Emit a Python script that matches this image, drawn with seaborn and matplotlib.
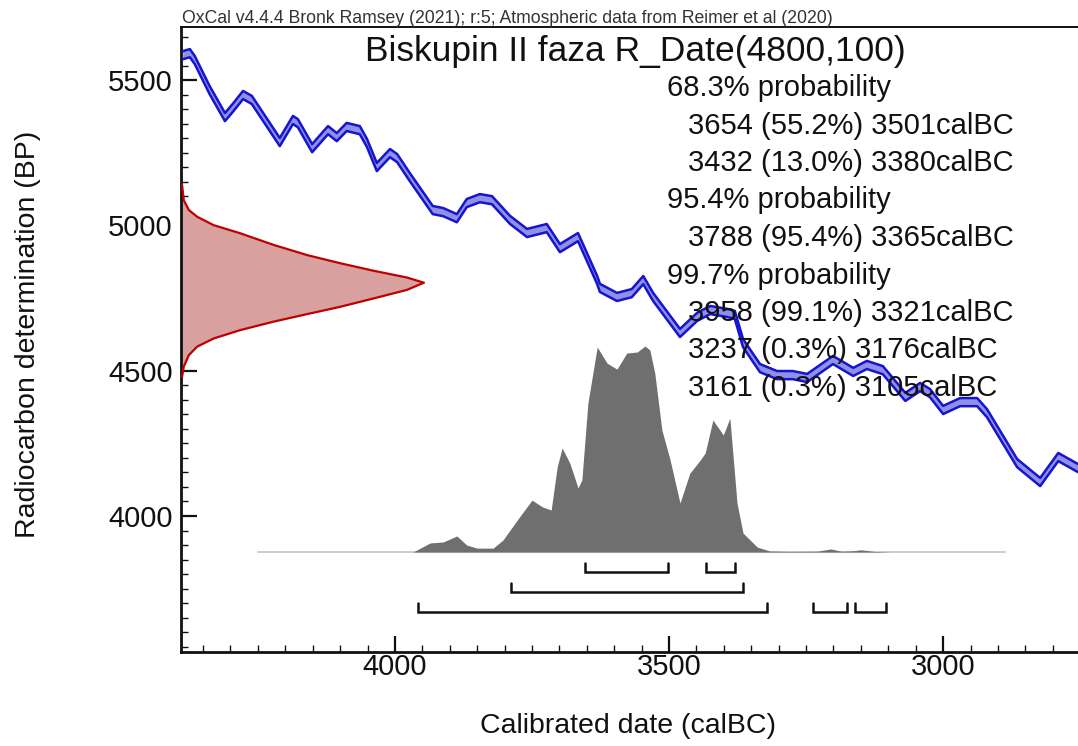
import numpy as np
import pandas as pd
import matplotlib
matplotlib.use('Agg')
import matplotlib.pyplot as plt
import seaborn as sns
from matplotlib.ticker import MultipleLocator

sns.set_theme(style='white')
plt.rcParams['font.family'] = ['Liberation Sans', 'DejaVu Sans']

# calibration curve (atmospheric), centre of the band
curve_cal = [4387, 4374, 4365, 4338, 4310, 4296, 4277, 4261, 4210, 4186, 4177,
             4151, 4122, 4106, 4088, 4064, 4051, 4033, 4009, 3996, 3973, 3931,
             3912, 3887, 3869, 3845, 3823, 3790, 3759, 3723, 3699, 3666, 3631,
             3626, 3595, 3568, 3547, 3529, 3480, 3449, 3425, 3394, 3380, 3365,
             3334, 3303, 3274, 3248, 3201, 3164, 3139, 3110, 3069, 3042, 3024,
             3000, 2969, 2938, 2920, 2865, 2823, 2790, 2754]
curve_bp = [5586, 5593, 5569, 5466, 5373, 5404, 5449, 5432, 5287, 5363, 5352,
            5266, 5328, 5304, 5339, 5328, 5284, 5201, 5249, 5232, 5167, 5053,
            5046, 5025, 5077, 5094, 5087, 5019, 4974, 4991, 4922, 4960, 4812,
            4785, 4754, 4767, 4812, 4754, 4630, 4685, 4709, 4699, 4692, 4595,
            4509, 4485, 4485, 4475, 4537, 4496, 4520, 4502, 4410, 4444, 4423,
            4365, 4392, 4392, 4354, 4182, 4117, 4203, 4165]
curve_err = 14

# radiocarbon measurement R_Date(4800,100): relative height of the red curve
rdate_bp = [5139, 5087, 5053, 5030, 5001, 4973, 4933, 4898, 4870, 4844, 4821,
            4803, 4778, 4749, 4720, 4695, 4669, 4640, 4611, 4583, 4554, 4514,
            4479]
rdate_dens = [0.004, 0.011, 0.032, 0.066, 0.134, 0.244, 0.381, 0.519, 0.655,
              0.793, 0.929, 1.0, 0.929, 0.793, 0.655, 0.519, 0.381, 0.244,
              0.134, 0.066, 0.032, 0.011, 0.004]

# calibrated probability distribution (relative to its maximum)
post_cal = [3967, 3936, 3912, 3887, 3869, 3850, 3821, 3803, 3777, 3750, 3730,
            3715, 3704, 3695, 3681, 3666, 3659, 3648, 3631, 3613, 3595, 3577,
            3558, 3544, 3535, 3526, 3513, 3498, 3480, 3462, 3443, 3434, 3420,
            3401, 3389, 3376, 3365, 3339, 3316, 3280, 3230, 3205, 3185, 3165,
            3150, 3125, 3095]
post_dens = [0.0, 0.044, 0.049, 0.078, 0.034, 0.019, 0.019, 0.058, 0.155, 0.252,
             0.218, 0.204, 0.413, 0.505, 0.432, 0.311, 0.35, 0.723, 0.995, 0.917,
             0.888, 0.966, 0.971, 1.0, 0.981, 0.869, 0.592, 0.447, 0.238, 0.383,
             0.447, 0.481, 0.641, 0.568, 0.65, 0.238, 0.092, 0.024, 0.005, 0.003,
             0.004, 0.015, 0.004, 0.006, 0.011, 0.003, 0.0]

# calibrated ranges: (from, to, percent)
ranges_68 = [(3654, 3501, 55.2), (3432, 3380, 13.0)]
ranges_95 = [(3788, 3365, 95.4)]
ranges_99 = [(3958, 3321, 99.1), (3237, 3176, 0.3), (3161, 3105, 0.3)]
prob_labels = ['68.3%', '95.4%', '99.7%']

title = 'Biskupin II faza R_Date(4800,100)'
header = 'OxCal v4.4.4 Bronk Ramsey (2021); r:5; Atmospheric data from Reimer et al (2020)'

# layout constants
x_left, x_right = 4390, 2754
y_bottom, y_top = 3532, 5683
base_bp = 3876          # baseline of the calibrated distribution
post_height = 709       # height of distribution peak in BP units
rdate_width = 443       # width of red curve peak in years

fig = plt.figure(figsize=(10.78, 7.46), dpi=100)
ax = fig.add_axes([0.168, 0.126, 0.832, 0.8378])

# calibration curve band
cdf = pd.DataFrame({'cal': curve_cal, 'bp': curve_bp})
cdf['lo'] = cdf['bp'] - curve_err
cdf['hi'] = cdf['bp'] + curve_err
ax.fill_between(cdf['cal'], cdf['lo'], cdf['hi'], color='#9090e6', lw=0, zorder=2)
sns.lineplot(data=cdf, x='cal', y='lo', color='#1515d0', lw=1.8, sort=False,
             estimator=None, ax=ax, zorder=3)
sns.lineplot(data=cdf, x='cal', y='hi', color='#1515d0', lw=1.8, sort=False,
             estimator=None, ax=ax, zorder=3)

# measured radiocarbon date on the y axis
rdf = pd.DataFrame({'bp': rdate_bp, 'dens': rdate_dens})
rdf['x'] = x_left - rdf['dens'] * rdate_width
ax.fill_betweenx(rdf['bp'], x_left, rdf['x'], color='#d9a0a0', lw=0, zorder=2)
sns.lineplot(data=rdf, x='x', y='bp', color='#c00000', lw=1.6, sort=False,
             estimator=None, ax=ax, zorder=3)

# calibrated distribution
pdf = pd.DataFrame({'cal': post_cal, 'dens': post_dens})
ax.plot([4250, 2887], [base_bp, base_bp], color='#c8c8c8', lw=1.3, zorder=1)
ax.fill_between(pdf['cal'], base_bp, base_bp + pdf['dens'] * post_height,
                color='#6f6f6f', lw=0, zorder=2)

# range brackets
tick_h = 31
for i, rows in enumerate([ranges_68, ranges_95, ranges_99]):
    yb = base_bp - 69 - i * 68.5
    for a, b, p in rows:
        ax.plot([a, a, b, b], [yb + tick_h, yb, yb, yb + tick_h],
                color='#111111', lw=1.8, solid_joinstyle='miter', zorder=3)

ax.set_xlim(x_left, x_right)
ax.set_ylim(y_bottom, y_top)

ax.xaxis.set_major_locator(MultipleLocator(500))
ax.xaxis.set_minor_locator(MultipleLocator(50))
ax.yaxis.set_major_locator(MultipleLocator(500))
ax.yaxis.set_minor_locator(MultipleLocator(50))
ax.tick_params(which='both', direction='in', color='#111111',
               bottom=True, left=True, top=False, right=False)
ax.tick_params(which='major', length=11.5, width=1.6, labelsize=21,
               labelcolor='#111111')
ax.tick_params(which='minor', length=5, width=1.0)
ax.tick_params(axis='x', pad=0.5)
ax.tick_params(axis='y', pad=6)

for side in ['left', 'bottom']:
    ax.spines[side].set_linewidth(2.0)
    ax.spines[side].set_color('#111111')
ax.spines['top'].set_linewidth(1.4)
ax.spines['top'].set_color('#111111')
ax.spines['right'].set_visible(False)

ax.set_xlabel('Calibrated date (calBC)', fontsize=20.5, color='#111111')
ax.set_ylabel('Radiocarbon determination (BP)', fontsize=20.5, color='#111111')
ax.xaxis.set_label_coords(0.498, -0.097)
ax.yaxis.set_label_coords(-0.156, 0.509)

# texts
fig.text(182 / 1078, 1 - 23 / 746, header, fontsize=12.7, color='#333333',
         ha='left', va='baseline')
fig.text(635 / 1078, 1 - 52 / 746, title, fontsize=25.5, color='#111111',
         ha='center', va='center', zorder=5)

lines = []
for lab, rows in zip(prob_labels, [ranges_68, ranges_95, ranges_99]):
    lines.append((lab + ' probability', 667))
    for a, b, p in rows:
        lines.append((f'{a} ({p:.1f}%) {b}calBC', 688))
for k, (txt, xp) in enumerate(lines):
    yp = 88 + k * 37.5
    fig.text(xp / 1078, 1 - yp / 746, txt, fontsize=21, color='#111111',
             ha='left', va='center', zorder=5)

fig.savefig('out.png', dpi=100)
